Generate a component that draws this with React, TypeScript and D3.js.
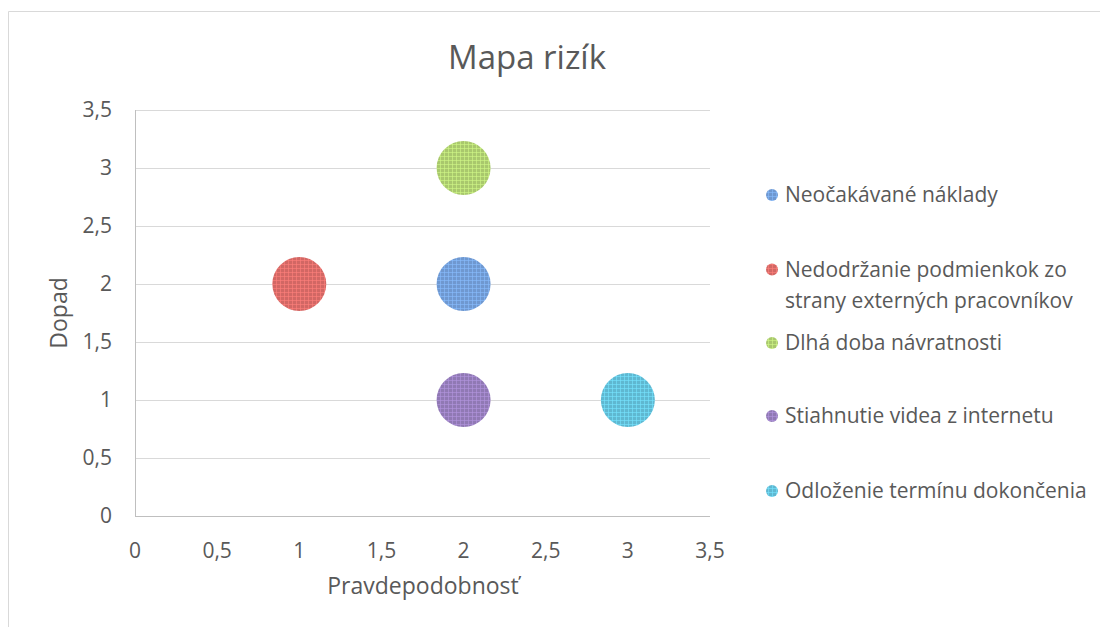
import React, { useEffect, useRef } from "react";
import * as d3 from "d3";

const seriesNames = [
  "Neočakávané náklady",
  "Nedodržanie podmienkok zo strany externých pracovníkov",
  "Dlhá doba návratnosti",
  "Stiahnutie videa z internetu",
  "Odloženie termínu dokončenia",
];
const legendLines = [
  ["Neočakávané náklady"],
  ["Nedodržanie podmienkok zo", "strany externých pracovníkov"],
  ["Dlhá doba návratnosti"],
  ["Stiahnutie videa z internetu"],
  ["Odloženie termínu dokončenia"],
];
const probability = [2, 1, 2, 2, 3];
const impact = [2, 2, 3, 1, 1];
const bubbleSize = [1, 1, 1, 1, 1];
const colors = ["#6f98d0", "#d26764", "#a9c86d", "#9079b4", "#5fb8d1"];
const ticks = [0, 0.5, 1, 1.5, 2, 2.5, 3, 3.5];

const fmt = (v: number) => String(v).replace(".", ",");

const App: React.FC = () => {
  const svgRef = useRef<SVGSVGElement>(null);

  useEffect(() => {
    const svg = d3.select(svgRef.current).attr("width", 1100).attr("height", 627);
    svg.selectAll("*").remove();
    const font = "'Open Sans', sans-serif";
    const textColor = "#595959";

    const defs = svg.append("defs");
    colors.forEach((c, i) => {
      const p = defs
        .append("pattern")
        .attr("id", "pat" + i)
        .attr("width", 4)
        .attr("height", 4)
        .attr("patternUnits", "userSpaceOnUse");
      p.append("rect").attr("width", 4).attr("height", 4).attr("fill", c);
      const light = d3.color(c)!.brighter(0.6).formatHex();
      p.append("rect").attr("width", 4).attr("height", 1).attr("fill", light).attr("opacity", 0.6);
      p.append("rect").attr("width", 1).attr("height", 4).attr("fill", light).attr("opacity", 0.6);
    });

    // okraj grafu (len ľavá a horná strana sú viditeľné)
    svg
      .append("path")
      .attr("d", "M8.5,627V11.5H1100")
      .attr("fill", "none")
      .attr("stroke", "#d9d9d9");

    const left = 135;
    const right = 710;
    const top = 110;
    const bottom = 516;

    const x = d3.scaleLinear().domain([0, 3.5]).range([left, right]);
    const y = d3.scaleLinear().domain([0, 3.5]).range([bottom, top]);
    const r = d3.scaleSqrt().domain([0, d3.max(bubbleSize)!]).range([0, 27]);

    // mriežka
    svg
      .append("g")
      .selectAll("line")
      .data(ticks.slice(1))
      .join("line")
      .attr("x1", left)
      .attr("x2", right)
      .attr("y1", (d) => Math.round(y(d)) + 0.5)
      .attr("y2", (d) => Math.round(y(d)) + 0.5)
      .attr("stroke", "#d9d9d9")
      .attr("stroke-width", 1);

    svg
      .append("line")
      .attr("x1", left + 0.5)
      .attr("x2", left + 0.5)
      .attr("y1", top)
      .attr("y2", bottom)
      .attr("stroke", "#bfbfbf");
    svg
      .append("line")
      .attr("x1", left)
      .attr("x2", right)
      .attr("y1", bottom + 0.5)
      .attr("y2", bottom + 0.5)
      .attr("stroke", "#bfbfbf");

    // popisy osí
    svg
      .append("g")
      .selectAll("text")
      .data(ticks)
      .join("text")
      .attr("x", 112)
      .attr("y", (d) => y(d))
      .attr("dy", "0.35em")
      .attr("text-anchor", "end")
      .attr("font-family", font)
      .attr("font-size", 21)
      .attr("fill", textColor)
      .text(fmt);
    svg
      .append("g")
      .selectAll("text")
      .data(ticks)
      .join("text")
      .attr("x", (d) => x(d))
      .attr("y", 558)
      .attr("text-anchor", "middle")
      .attr("font-family", font)
      .attr("font-size", 21)
      .attr("fill", textColor)
      .text(fmt);

    // bubliny
    svg
      .append("g")
      .selectAll("circle")
      .data(seriesNames)
      .join("circle")
      .attr("cx", (_, i) => x(probability[i]))
      .attr("cy", (_, i) => y(impact[i]))
      .attr("r", (_, i) => r(bubbleSize[i]))
      .attr("fill", (_, i) => `url(#pat${i})`);

    svg
      .append("text")
      .attr("x", 527)
      .attr("y", 69)
      .attr("text-anchor", "middle")
      .attr("font-family", font)
      .attr("font-size", 33)
      .attr("fill", textColor)
      .text("Mapa rizík");
    svg
      .append("text")
      .attr("x", 423)
      .attr("y", 594)
      .attr("text-anchor", "middle")
      .attr("font-family", font)
      .attr("font-size", 23)
      .attr("fill", textColor)
      .text("Pravdepodobnosť");
    svg
      .append("text")
      .attr("transform", `translate(67, 313) rotate(-90)`)
      .attr("text-anchor", "middle")
      .attr("font-family", font)
      .attr("font-size", 23)
      .attr("fill", textColor)
      .text("Dopad");

    // legenda
    const legendY = [195, 285, 343, 416, 491];
    const lg = svg.append("g");
    seriesNames.forEach((_, i) => {
      const lines = legendLines[i];
      const cy = legendY[i];
      const firstY = cy - ((lines.length - 1) * 31) / 2;
      lg.append("circle")
        .attr("cx", 772)
        .attr("cy", firstY)
        .attr("r", 6)
        .attr("fill", `url(#pat${i})`);
      lines.forEach((t, j) => {
        lg.append("text")
          .attr("x", 785)
          .attr("y", firstY + j * 31)
          .attr("dy", "0.35em")
          .attr("font-family", font)
          .attr("font-size", 21)
          .attr("fill", textColor)
          .text(t);
      });
    });
  }, []);

  return (
    <svg ref={svgRef} style={{ position: "absolute", left: 0, top: 0, display: "block" }}></svg>
  );
};

export default App;
